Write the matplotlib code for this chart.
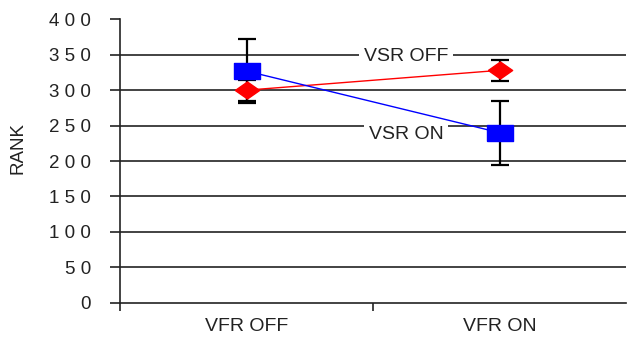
import matplotlib.pyplot as plt
import numpy as np

plt.rcParams['font.family'] = ['Liberation Sans', 'DejaVu Sans']

# Data
categories = ["VFR OFF", "VFR ON"]
vsr_off = [300, 328]
vsr_off_err = [15, 15]
vsr_on = [327, 240]
vsr_on_err = [45, 45]
yticks = [0, 50, 100, 150, 200, 250, 300, 350, 400]

x = np.arange(len(categories))

fig = plt.figure(figsize=(6.27, 3.39), dpi=100)
ax = fig.add_axes([0.1914, 0.107, 0.8072, 0.836])

# horizontal gridlines (none at the top)
ax.hlines(yticks[1:-1], -0.5, 1.5, color="#222222", linewidth=1.2, zorder=1)

# flattened marker shapes
rect = [(-1, -0.62), (1, -0.62), (1, 0.62), (-1, 0.62), (-1, -0.62)]
diamond = [(-1, 0), (0, -0.7), (1, 0), (0, 0.7), (-1, 0)]

ax.errorbar(x, vsr_off, yerr=vsr_off_err, fmt="none", ecolor="black",
            elinewidth=1.6, capsize=6.5, capthick=1.6, zorder=3)
ax.errorbar(x, vsr_on, yerr=vsr_on_err, fmt="none", ecolor="black",
            elinewidth=1.6, capsize=6.5, capthick=1.6, zorder=3)

ax.plot(x, vsr_off, color="#ff0000", linewidth=1, marker=diamond,
        markersize=17.5, markerfacecolor="#ff0000", markeredgecolor="#ff0000", zorder=4)
ax.plot(x, vsr_on, color="#0000ff", linewidth=1, marker=rect,
        markersize=18.5, markerfacecolor="#0000ff", markeredgecolor="#0000ff", zorder=5)

# series labels placed on the chart
ax.text(0.63, 347, "VSR OFF", fontsize=14, ha="center", va="center", color="#222222",
        bbox=dict(facecolor="white", edgecolor="none", pad=3.5), zorder=2)
ax.text(0.63, 237, "VSR ON", fontsize=14, ha="center", va="center", color="#222222",
        bbox=dict(facecolor="white", edgecolor="none", pad=3.5), zorder=2)

ax.set_xlim(-0.5, 1.5)
ax.set_ylim(0, 400)

ax.set_yticks(yticks)
ax.set_yticklabels([" ".join(str(v)) for v in yticks], fontsize=13.5, color="#222222")
ax.tick_params(axis="y", length=7, width=1.2, pad=14, color="#222222")

# category boundaries get ticks, labels sit between them
ax.set_xticks([-0.5, 0.5])
ax.set_xticklabels(["", ""])
ax.set_xticks(x, minor=True)
ax.set_xticklabels(categories, minor=True, fontsize=14, color="#222222")
ax.tick_params(axis="x", which="major", length=6, width=1.2, color="#222222")
ax.tick_params(axis="x", which="minor", length=0, pad=11)

fig.text(18 / 627, 1 - 148 / 339, "RANK", fontsize=13.5, rotation=90,
         ha="center", va="center", color="#222222")

for side in ["top", "right"]:
    ax.spines[side].set_visible(False)
ax.spines["left"].set_linewidth(1.2)
ax.spines["bottom"].set_linewidth(1.2)
ax.spines["left"].set_color("#222222")
ax.spines["bottom"].set_color("#222222")

fig.savefig("out.png", dpi=100)
